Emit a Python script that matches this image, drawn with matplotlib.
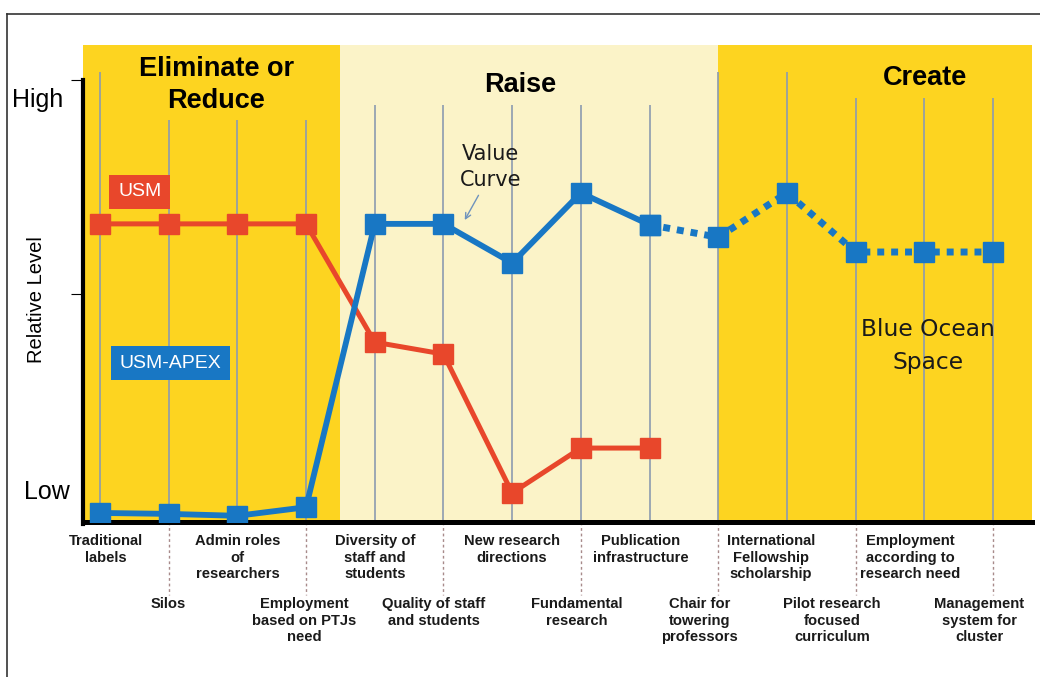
import numpy as np
import matplotlib.pyplot as plt
from matplotlib.lines import Line2D

# strategy canvas factors (x axis, index order)
factors = ['Traditional\nlabels', 'Silos', 'Admin roles\nof\nresearchers',
           'Employment\nbased on PTJs\nneed', 'Diversity of\nstaff and\nstudents',
           'Quality of staff\nand students', 'New research\ndirections',
           'Fundamental\nresearch', 'Publication\ninfrastructure',
           'Chair for\ntowering\nprofessors', 'International\nFellowship\nscholarship',
           'Pilot research\nfocused\ncurriculum', 'Employment\naccording to\nresearch need',
           'Management\nsystem for\ncluster']

# relative level, 0 = bottom of plot, 100 = top
usm = [62.5, 62.5, 62.5, 62.5, 37.7, 35.2, 6.1, 15.5, 15.5]
apex = [1.9, 1.7, 1.3, 3.1, 62.5, 62.5, 54.3, 69.0, 62.3]
apex_new = [62.3, 59.7, 69.0, 56.6, 56.6, 56.6]   # factors 8..13 (dotted)

sections = ['Eliminate or\nReduce', 'Raise', 'Create']

# layout stuff
grid_top = [94.3, 84.3, 84.3, 84.3, 87.4, 87.4, 87.4, 87.4, 87.4, 94.3, 94.3, 88.9, 88.9, 88.9]
lab_dx = [0.08, 0, 0, -0.03, 0, -0.14, 0, -0.06, -0.13, -0.27, -0.23, -0.34, -0.2, -0.2]

GOLD = '#FDD420'
PALE = '#FBF3C8'
RED = '#E8472B'
BLUE = '#1877C4'
GRID = '#8C9BAF'

fig = plt.figure(figsize=(10.4, 6.77), dpi=100)
ax = fig.add_axes([83/1040, 1-522/677, 949/1040, 477/677])
ax.set_xlim(-0.2475, 13.568)
ax.set_ylim(0, 100)

# background bands
ax.axvspan(-0.2475, 3.5, color=GOLD, zorder=0, lw=0)
ax.axvspan(3.5, 9.0, color=PALE, zorder=0, lw=0)
ax.axvspan(9.0, 13.568, color=GOLD, zorder=0, lw=0)

x = np.arange(len(factors))
ax.vlines(x, 0, grid_top, color=GRID, lw=1.2, zorder=1)

ax.plot(x[:len(usm)], usm, color=RED, lw=3.6, marker='s', ms=14, zorder=3)
ax.plot(x[:len(apex)], apex, color=BLUE, lw=4.2, marker='s', ms=14, zorder=4)
ax.plot(x[8:8+len(apex_new)], apex_new, color=BLUE, lw=5, ls=(0, (1, 1)),
        marker='s', ms=14, zorder=4)

# spines / ticks
for s in ['top', 'right']:
    ax.spines[s].set_visible(False)
ax.spines['left'].set_linewidth(3)
ax.spines['left'].set_bounds(-0.5, 92.7)
ax.spines['bottom'].set_linewidth(3.6)
ax.set_xticks([])
ax.set_yticks([92.7, 47.9])
ax.set_yticklabels([])
ax.tick_params(axis='y', length=9, width=0.8, direction='out')

# section titles
ax.text(1.69, 91.6, sections[0], ha='center', va='center', fontsize=19.5,
        fontweight='bold', family='Liberation Sans', linespacing=1.27)
ax.text(6.11, 91.6, sections[1], ha='center', va='center', fontsize=19.5,
        fontweight='bold', family='Liberation Sans')
ax.text(12.01, 93.1, sections[2], ha='center', va='center', fontsize=19.5,
        fontweight='bold', family='Liberation Sans')

# series labels
ax.text(0.58, 69.2, 'USM', ha='center', va='center', fontsize=14, color='white',
        family='Liberation Sans',
        bbox=dict(boxstyle='square,pad=0.45', fc=RED, ec='none'))
ax.text(1.03, 33.3, 'USM-APEX', ha='center', va='center', fontsize=14, color='white',
        family='Liberation Sans',
        bbox=dict(boxstyle='square,pad=0.45', fc=BLUE, ec='none'))

ax.text(5.69, 74.4, 'Value\nCurve', ha='center', va='center', fontsize=15,
        family='DejaVu Sans', color='#1a1a1a', linespacing=1.4)
ax.annotate('', xy=(5.29, 62.8), xytext=(5.53, 69.0),
            arrowprops=dict(arrowstyle='->', color='#6F93BD', lw=1.0))
ax.text(12.05, 36.9, 'Blue Ocean\nSpace', ha='center', va='center', fontsize=16.8,
        family='DejaVu Sans', color='#1a1a1a', linespacing=1.55)

# factor labels in two staggered rows
for i, lab in enumerate(factors):
    if i % 2 == 0:
        ax.text(i + lab_dx[i], -2.6, lab, ha='center', va='top', fontsize=10.6,
                fontweight='bold', family='Liberation Sans', color='#1a1a1a', clip_on=False)
    else:
        ax.plot([i, i], [0, -15.3], color='#A88A8A', lw=1, ls=(0, (2, 2)), clip_on=False)
        ax.text(i + lab_dx[i], -15.8, lab, ha='center', va='top', fontsize=10.6,
                fontweight='bold', family='Liberation Sans', color='#1a1a1a', clip_on=False)

# y axis words
fig.text(38/1040, 1-100/677, 'High', ha='center', va='center', fontsize=18,
         family='Liberation Sans')
fig.text(47/1040, 1-492/677, 'Low', ha='center', va='center', fontsize=18,
         family='Liberation Sans')
fig.text(36/1040, 1-300/677, 'Relative Level', ha='center', va='center', fontsize=14.5,
         rotation=90, family='Liberation Sans')

# outer frame
fig.add_artist(Line2D([7/1040, 1], [1-14/677, 1-14/677], color='#333333', lw=1.2))
fig.add_artist(Line2D([7/1040, 7/1040], [1-14/677, 0], color='#333333', lw=1.2))

fig.savefig('out.png', dpi=100)
